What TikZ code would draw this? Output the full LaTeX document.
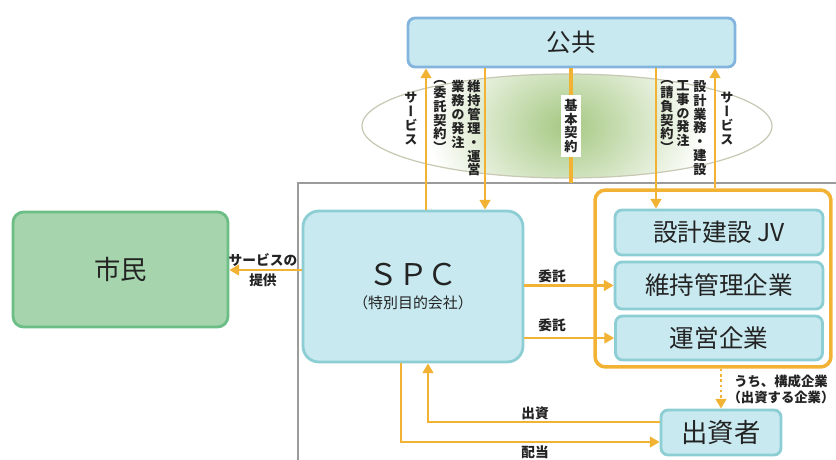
\documentclass[tikz,border=0pt]{standalone}
\usepackage{fontspec}
\setmainfont{Noto Sans CJK JP}
\newfontfamily\tatefont[RawFeature=+vert]{Noto Sans CJK JP}
\usetikzlibrary{arrows.meta}

\definecolor{boxblue}{RGB}{200,233,240}
\definecolor{publine}{RGB}{130,180,222}
\definecolor{spcline}{RGB}{140,206,212}
\definecolor{citygreen}{RGB}{166,213,173}
\definecolor{cityline}{RGB}{108,190,134}
\definecolor{flow}{RGB}{242,178,52}
\definecolor{framegray}{RGB}{155,155,155}
\definecolor{glow}{RGB}{165,200,130}
\definecolor{ringline}{RGB}{200,200,180}
\definecolor{ink}{RGB}{35,35,35}

\begin{document}
\begin{tikzpicture}[x=0.02cm, y=-0.02cm,
  box/.style={draw=spcline, fill=boxblue, line width=1.6pt, rounded corners=4pt, text=ink, inner sep=0pt},
  bigtext/.style={font=\fontsize{14}{14}\selectfont},
  flowline/.style={draw=flow, line width=1.4pt},
  arr/.style={flowline, -{Triangle[width=6pt,length=5.5pt]}},
  note/.style={font=\bfseries\fontsize{7.8}{9.5}\selectfont, text=ink, align=center, inner sep=0pt},
  tate/.style={font=\tatefont\bfseries\fontsize{7.5}{7.9}\selectfont, text=ink, align=center, inner sep=0pt, anchor=north,
    execute at begin node={\lineskiplimit=-5pt\relax}}]
\useasboundingbox (0,0) rectangle (836,460);

\begin{scope}
  \clip (567,126) ellipse [x radius=205, y radius=52];
  \shade[inner color=glow, outer color=white] (567,126) ellipse [x radius=140, y radius=110];
\end{scope}
\draw[ringline, line width=0.7pt] (567,126) ellipse [x radius=205, y radius=52];

\coordinate (fcorner) at (298,183);
\draw[framegray, line width=1pt] (298,460) -- (fcorner) -- (836,183);

\node[box, draw=publine, minimum width=6.54cm, minimum height=0.98cm, bigtext] (pub) at (571.5,42.5) {公共};
\node[box, draw=cityline, fill=citygreen, minimum width=4.3cm, minimum height=2.3cm, rounded corners=6pt, font=\fontsize{15}{15}\selectfont] (city) at (120.5,269.5) {市民};
\node[box, minimum width=4.4cm, minimum height=3.02cm, rounded corners=9pt, align=center] (spc) at (413,286.5)
  {\fontsize{17}{20}\selectfont ＳＰＣ\\[1pt]\fontsize{8.5}{10}\selectfont （特別目的会社）};
\node[draw=flow, line width=2pt, rounded corners=6pt, minimum width=4.72cm, minimum height=3.54cm, inner sep=0pt] (grp) at (713,278.5) {};
\node[box, minimum width=4.16cm, minimum height=0.9cm, bigtext] (jv) at (719,232.5) {設計建設 JV};
\node[box, minimum width=4.16cm, minimum height=0.94cm, bigtext] (ijk) at (719,285.5) {維持管理企業};
\node[box, minimum width=4.14cm, minimum height=0.88cm, bigtext] (ops) at (719,338) {運営企業};
\node[box, minimum width=2.4cm, minimum height=0.9cm, font=\fontsize{15}{15}\selectfont] (inv) at (721,432.5) {出資者};

\coordinate (kend) at (571,183);
\draw[arr] (426,0 |- spc.north) -- (426,0 |- pub.south);
\draw[arr] (485,0 |- pub.south) -- (485,0 |- spc.north);
\draw[flowline, line width=1.8pt] (571,0 |- pub.south) -- (kend);
\draw[arr] (656,0 |- pub.south) -- (656,0 |- jv.north);
\draw[arr] (715,0 |- grp.north) -- (715,0 |- pub.south);

\draw[arr] (spc.west |- 0,270) -- (city.east |- 0,270);
\draw[arr] (spc.east |- ijk.west) -- (ijk.west);
\draw[arr] (spc.east |- ops.west) -- (ops.west);
\draw[arr, dash pattern=on 1.5pt off 1.5pt] (grp.south -| inv.north) -- (inv.north);
\draw[arr] (inv.west |- 0,422) -| (428,0 |- spc.south);
\draw[arr] (401,0 |- spc.south) |- (inv.west |- 0,442);

\node[tate] (lsv) at (411,92) {サ\\ー\\ビ\\ス};
\node[tate] (lcon) at (440,80) {（\\委\\託\\契\\約\\）};
\node[tate] (lord) at (458,80) {業\\務\\の\\発\\注};
\node[tate] (lwork) at (474,80) {維\\持\\管\\理\\・\\運\\営};
\node[tate, fill=white, inner sep=2pt] (kihon) at (571,95) {基\\本\\契\\約};
\node[tate] (rcon) at (667,80) {（\\請\\負\\契\\約\\）};
\node[tate] (rord) at (683,80) {工\\事\\の\\発\\注};
\node[tate] (rwork) at (700,80) {設\\計\\業\\務\\・\\建\\設};
\node[tate] (rsv) at (727,92) {サ\\ー\\ビ\\ス};

\node[note, font=\bfseries\fontsize{7.8}{11.3}\selectfont] (svc) at (263,270) {サービスの\\提供};
\node[note] (itaku1) at (552,276) {委託};
\node[note] (itaku2) at (552,325) {委託};
\node[note] (shushi) at (535,413) {出資};
\node[note] (haito) at (535,452) {配当};
\node[note, font=\bfseries\fontsize{7.6}{9.2}\selectfont] (member) at (781,389) {うち、構成企業\\（出資する企業）};
\end{tikzpicture}
\end{document}
